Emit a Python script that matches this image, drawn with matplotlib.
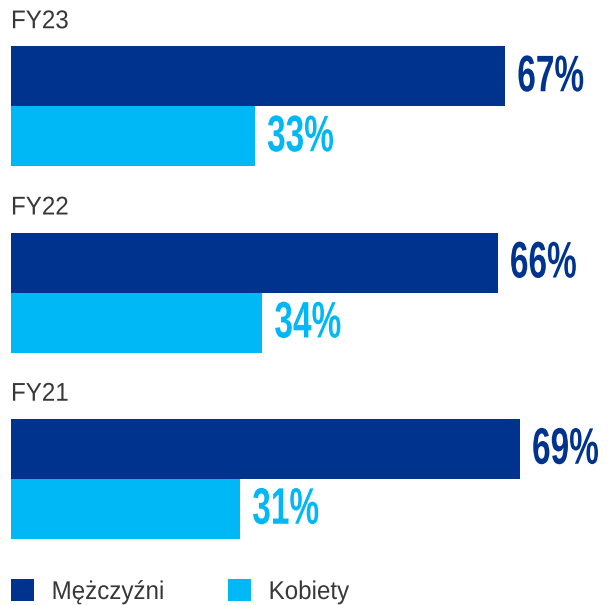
import matplotlib
matplotlib.use("Agg")
import matplotlib.pyplot as plt
import numpy as np
from matplotlib.patheffects import AbstractPathEffect
from matplotlib.transforms import Affine2D

years = ["FY23", "FY22", "FY21"]
men = [67, 66, 69]
women = [33, 34, 31]
series_names = ["Mężczyźni", "Kobiety"]

DARK = "#00338D"
LIGHT = "#00B8F5"
TEXT = "#383838"


class GlyphScale(AbstractPathEffect):
    """Scale glyph outlines (emulates a condensed typeface).
    Scaling is done about the middle of the cap height so the text stays
    vertically where matplotlib laid it out."""

    def __init__(self, sx, sy=1.0, yc=36.0):
        super().__init__()
        self.sx, self.sy, self.yc = sx, sy, yc

    def draw_path(self, renderer, gc, tpath, affine, rgbFace=None):
        t = (Affine2D().translate(0, -self.yc).scale(self.sx, self.sy)
             .translate(0, self.yc))
        renderer.draw_path(gc, tpath, t + affine, rgbFace)


W, H = 608, 605
fig = plt.figure(figsize=(W / 100, H / 100), dpi=100)
ax = fig.add_axes([0, 0, 1, 1])

PX_PER_PCT = 7.38
X0 = 11
GROUP_PX = 186.25
FIRST_CENTER = 106.25

pos = np.arange(len(years))
h = 60 / GROUP_PX
b1 = ax.barh(pos - h / 2, men, height=h, color=DARK, label=series_names[0])
b2 = ax.barh(pos + h / 2, women, height=h, color=LIGHT, label=series_names[1])

PCT_SIZE = 26
K = 37 / PCT_SIZE
pct_font = dict(fontsize=PCT_SIZE, fontweight="bold",
                fontfamily=["Liberation Sans", "DejaVu Sans"])
labs = ax.bar_label(b1, labels=[f"{v}%" for v in men], padding=8.5, color=DARK, **pct_font)
labs += ax.bar_label(b2, labels=[f"{v}%" for v in women], padding=9, color=LIGHT, **pct_font)
for t in labs:
    t.set_path_effects([GlyphScale(0.65 * K, K)])

SX_TXT = 0.94
lab_font = dict(family=["Liberation Sans", "DejaVu Sans"], size=18.5)
for i, y in enumerate(years):
    t = ax.text(0, i - 78 / GROUP_PX, y, ha="left", va="baseline", color=TEXT,
                fontfamily=lab_font["family"], fontsize=lab_font["size"])
    t.set_path_effects([GlyphScale(SX_TXT)])

ax.set_xlim(-X0 / PX_PER_PCT, (W - X0) / PX_PER_PCT)
ax.set_ylim((H - FIRST_CENTER) / GROUP_PX, -FIRST_CENTER / GROUP_PX)
ax.axis("off")

leg = ax.legend(loc="lower left", bbox_to_anchor=(11 / W, 1 / H), ncol=2, frameon=False,
                prop=lab_font,
                handlelength=0.9, handleheight=0.9, handletextpad=0.68,
                columnspacing=2.2, borderaxespad=0.0, borderpad=0.0)
for t in leg.get_texts():
    t.set_color(TEXT)
    t.set_path_effects([GlyphScale(SX_TXT)])

fig.savefig("out.png", dpi=100)
